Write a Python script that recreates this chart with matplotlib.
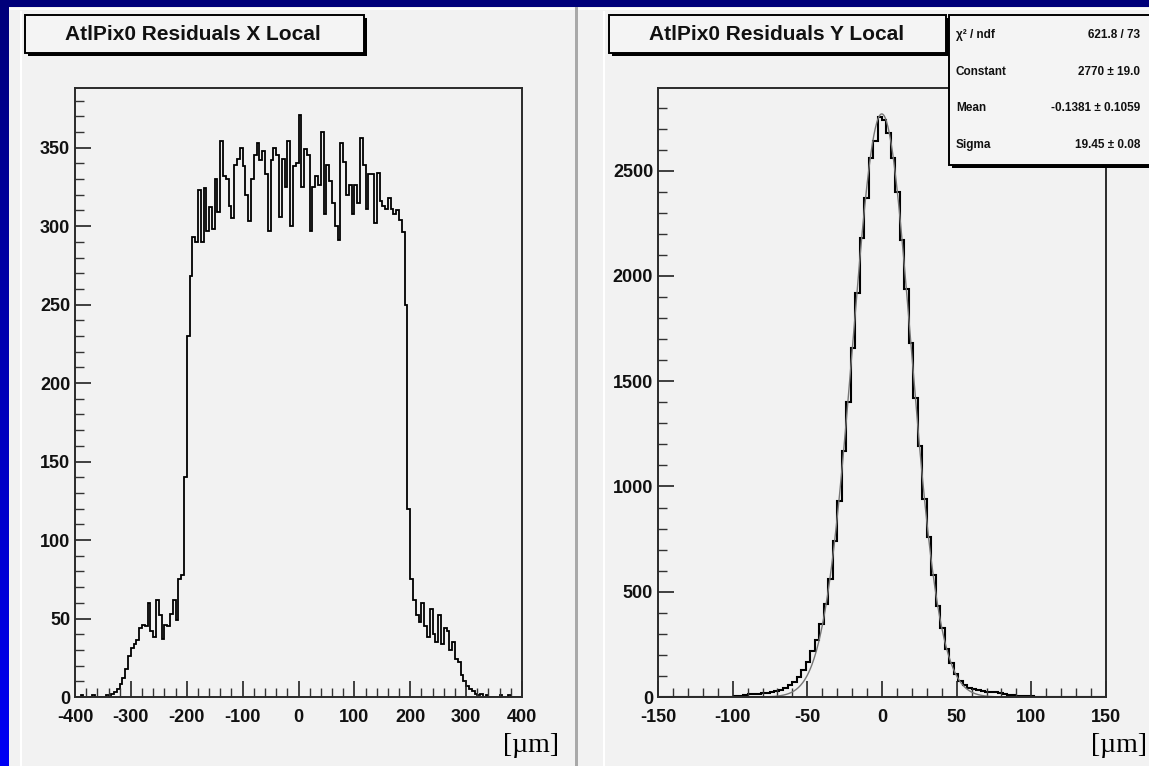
import numpy as np
import matplotlib as mpl
mpl.use('agg')
import matplotlib.pyplot as plt
from matplotlib.patches import Rectangle
from matplotlib.colors import LinearSegmentedColormap
from matplotlib.ticker import MultipleLocator, FuncFormatter

# ---- data ----
# left panel: residuals X, 5 um bins from -400 to 400
x_edges = np.arange(-400, 401, 5)
x_counts = [0, 0, 1, 0, 0, 0, 1, 0, 0, 0, 0, 1, 0,
            2, 3, 5, 8, 12, 18, 26, 31, 34, 36, 44, 46, 45, 60, 42, 38, 62,
            52, 37, 46, 45, 53, 62, 49, 75, 78, 140, 230, 268, 293, 290,
            323, 290, 324, 297, 312, 298, 330, 309, 354, 332,
            330, 313, 305, 339, 343, 350, 338, 320, 303, 330,
            345, 353, 342, 348, 333, 297, 342, 350, 345, 306,
            343, 325, 354, 300, 338, 340, 371, 325, 349, 345,
            297, 325, 332, 326, 360, 308, 339, 329, 315, 300,
            291, 353, 341, 320, 326, 308, 326, 315, 356, 339,
            311, 333, 333, 302, 334, 316, 313, 311, 318, 311,
            308, 310, 304, 296, 250,
            120, 75, 62, 52, 48, 60, 45, 38, 56, 40,
            35, 52, 34, 44, 42, 30, 35, 24, 22, 14,
            10, 7, 5, 4, 2, 1, 2, 0, 1, 0,
            0, 0, 0, 1, 0, 0, 1, 0, 0, 0, 0]

# right panel: residuals Y, 3 um bins from -150 to 150
y_edges = np.arange(-150, 151, 3)
y_counts = [0, 0, 0, 0, 0, 0, 0, 0, 0, 0, 0, 0, 2, 1, 0, 1,
            2, 3, 5, 8, 12, 14, 16, 18, 20, 24, 28, 34, 44, 58, 72, 95,
            130, 165, 220, 270, 345, 440, 560, 740, 930, 1170, 1400, 1660,
            1920, 2180, 2370, 2560, 2640, 2755, 2740, 2680, 2560, 2400,
            2170, 1940, 1680, 1420, 1190, 940, 760, 580, 430, 330, 230,
            160, 110, 75, 55, 42, 38, 34, 30, 26, 24, 22, 18, 14, 10, 8,
            6, 5, 4, 3, 2,
            1, 0, 0, 0, 2, 1, 0, 0, 0, 0, 0, 0, 0, 0, 0]

# gaussian fit shown in the stats box
fit_const, fit_mean, fit_sigma = 2770, -0.1381, 19.45
stats_rows = [('\u03c7\u00b2 / ndf', '621.8 / 73'),
              ('Constant', '2770 \u00b1 19.0'),
              ('Mean', '-0.1381 \u00b1 0.1059'),
              ('Sigma', '19.45 \u00b1 0.08')]

plt.rcParams['font.family'] = ['Liberation Sans', 'DejaVu Sans']
plt.rcParams['axes.unicode_minus'] = False

W, H = 1149, 766
fig = plt.figure(figsize=(W / 100, H / 100), dpi=100)

# blue gradient background + grey pads
bg = fig.add_axes([0, 0, 1, 1], zorder=0)
bg.set_xlim(0, W)
bg.set_ylim(H, 0)
bg.axis('off')
cmap = LinearSegmentedColormap.from_list('blu', ['#00007a', '#0000f5'])
bg.imshow(np.linspace(0, 1, 256).reshape(-1, 1), cmap=cmap,
          extent=(0, W, H, 0), aspect='auto')
bg.add_patch(Rectangle((9, 7), 568, 780, fc='#f2f2f2', ec='none'))
bg.add_patch(Rectangle((578, 7), 600, 780, fc='#f2f2f2', ec='none'))
bg.add_patch(Rectangle((575, 7), 3, 780, fc='#a9a9a9', ec='none'))
bg.plot([21, 21], [12, H], color='white', lw=1.5)
bg.plot([604, 604], [12, H], color='white', lw=1.5)
bg.plot([10, 574], [9, 9], color='white', lw=1.2)
bg.plot([579, W], [9, 9], color='white', lw=1.2)


def hyphen(v, pos):
    return '%d' % v


def style_axes(ax, xmaj, xmin, ymaj, ymin):
    ax.set_facecolor('none')
    for s in ax.spines.values():
        s.set_color('#2a2a2a')
        s.set_linewidth(1.4)
    ax.xaxis.set_major_locator(MultipleLocator(xmaj))
    ax.xaxis.set_minor_locator(MultipleLocator(xmin))
    ax.yaxis.set_major_locator(MultipleLocator(ymaj))
    ax.yaxis.set_minor_locator(MultipleLocator(ymin))
    ax.xaxis.set_major_formatter(FuncFormatter(hyphen))
    ax.yaxis.set_major_formatter(FuncFormatter(hyphen))
    ax.tick_params(which='major', direction='in', length=11.5, width=1.2,
                   color='#222222', labelsize=13, labelcolor='#111111')
    ax.tick_params(which='minor', direction='in', length=6.5, width=1.0,
                   color='#333333')
    ax.tick_params(axis='x', which='major', pad=9)
    ax.tick_params(axis='y', which='major', pad=3.5)
    for lbl in ax.get_xticklabels() + ax.get_yticklabels():
        lbl.set_fontweight('bold')


axL = fig.add_axes([75 / W, 1 - 697 / H, (522 - 75) / W, (697 - 88) / H], zorder=2)
axL.stairs(x_counts, x_edges, color='black', lw=1.3)
axL.set_xlim(-400, 400)
axL.set_ylim(0, 388)
style_axes(axL, 100, 20, 50, 10)

axR = fig.add_axes([658 / W, 1 - 697 / H, (1106 - 658) / W, (697 - 88) / H], zorder=2)
axR.stairs(y_counts, y_edges, color='black', lw=1.5)
xf = np.linspace(-150, 150, 601)
axR.plot(xf, fit_const * np.exp(-0.5 * ((xf - fit_mean) / fit_sigma) ** 2),
         color='#777777', lw=1.0)
axR.set_xlim(-150, 150)
axR.set_ylim(0, 2893)
style_axes(axR, 50, 10, 500, 100)

fig.text(559 / W, 1 - 745 / H, '[\u00b5m]', ha='right', va='center',
         fontsize=20, family='Liberation Serif')
fig.text(1147 / W, 1 - 745 / H, '[\u00b5m]', ha='right', va='center',
         fontsize=20, family='Liberation Serif')

# overlay: title boxes and fit statistics
ov = fig.add_axes([0, 0, 1, 1], zorder=5)
ov.set_xlim(0, W)
ov.set_ylim(H, 0)
ov.axis('off')


def shadow_box(x, y, w, h):
    ov.add_patch(Rectangle((x + 3, y + 3), w, h, fc='black', ec='none'))
    ov.add_patch(Rectangle((x, y), w, h, fc='#f4f4f4', ec='black', lw=1.4))


shadow_box(25, 15, 339, 38)
ov.text(193, 35, 'AtlPix0 Residuals X Local', ha='center', va='center',
        fontsize=15, fontweight='bold', color='#111111')
shadow_box(609, 15, 337, 38)
ov.text(777, 35, 'AtlPix0 Residuals Y Local', ha='center', va='center',
        fontsize=15, fontweight='bold', color='#111111')

shadow_box(949, 15, 230, 150)
for i, (name, val) in enumerate(stats_rows):
    yy = 35 + i * 36.7
    ov.text(956, yy, name, ha='left', va='center', fontsize=8.5,
            fontweight='bold', color='#111111')
    ov.text(1140, yy, val, ha='right', va='center', fontsize=8.5,
            fontweight='bold', color='#111111')

fig.savefig('out.png', dpi=100)
